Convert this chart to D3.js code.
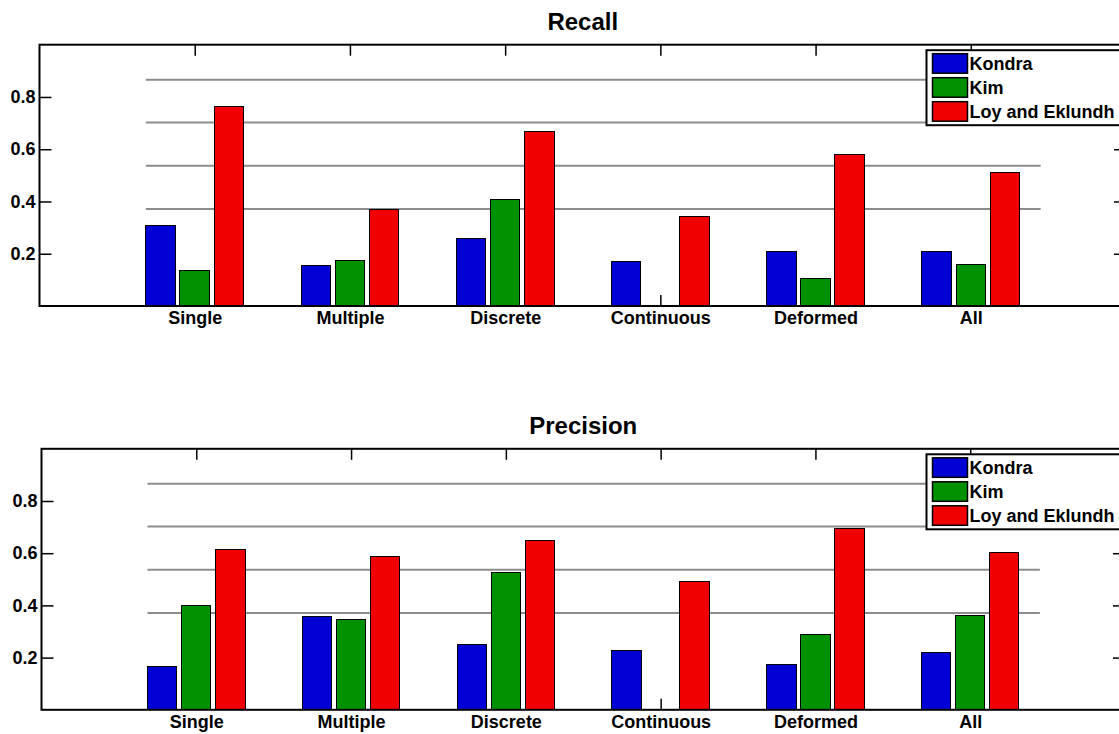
<!DOCTYPE html>
<html>
<head>
<meta charset="utf-8">
<script src="https://cdn.jsdelivr.net/npm/d3@7/dist/d3.min.js"></script>
<style>
  html, body { margin: 0; padding: 0; background: #fff; }
  svg { display: block; }
  text { font-family: "Liberation Sans", Arial, Helvetica, sans-serif; font-weight: bold; fill: #000; }
</style>
</head>
<body>
<svg id="chart" width="1119" height="734"></svg>
<script>
// Detection results per scene category
const categories = ["Single", "Multiple", "Discrete", "Continuous", "Deformed", "All"];
const methods = ["Kondra", "Kim", "Loy and Eklundh"];
const methodColors = ["#0000d4", "#009100", "#f00000"];

const recallKondra = [0.309, 0.156, 0.260, 0.172, 0.210, 0.210];
const recallKim    = [0.137, 0.173, 0.408, 0.000, 0.107, 0.160];
const recallLoy    = [0.762, 0.370, 0.668, 0.344, 0.580, 0.509];

const precisionKondra = [0.166, 0.356, 0.251, 0.229, 0.174, 0.220];
const precisionKim    = [0.401, 0.347, 0.525, 0.000, 0.289, 0.362];
const precisionLoy    = [0.616, 0.587, 0.647, 0.493, 0.693, 0.601];

const yTicks = [0.2, 0.4, 0.6, 0.8];
const refLevels = [0.371, 0.537, 0.702, 0.866];
const refSpan = [0.685, 6.45];

const svg = d3.select("#chart");

function drawPanel(opts) {
  const { title, series, left, right, top, bottom } = opts;
  const x = d3.scaleLinear().domain([0, 7]).range([left, right]);
  const y = d3.scaleLinear().domain([0, 1]).range([bottom, top]);
  const g = svg.append("g");

  // title
  g.append("text")
    .attr("x", (left + right) / 2)
    .attr("y", top - 14.5)
    .attr("text-anchor", "middle")
    .style("font-size", "24px")
    .text(title);

  // horizontal reference lines
  g.append("g").selectAll("line").data(refLevels).join("line")
    .attr("x1", x(refSpan[0])).attr("x2", x(refSpan[1]))
    .attr("y1", d => y(d)).attr("y2", d => y(d))
    .attr("stroke", "#8c8c8c").attr("stroke-width", 2);

  // axes (ticks point inward, as in the plotting frame)
  const bottomAxis = g.append("g").attr("transform", `translate(0,${bottom})`)
    .call(d3.axisBottom(x).tickValues(d3.range(1, categories.length + 1))
      .tickFormat(i => categories[i - 1]).tickSizeInner(-11).tickSizeOuter(0).tickPadding(5));
  const topAxis = g.append("g").attr("transform", `translate(0,${top})`)
    .call(d3.axisTop(x).tickValues(d3.range(1, categories.length + 1))
      .tickFormat("").tickSizeInner(-11).tickSizeOuter(0));
  const leftAxis = g.append("g").attr("transform", `translate(${left},0)`)
    .call(d3.axisLeft(y).tickValues(yTicks).tickFormat(d3.format(".1f"))
      .tickSizeInner(-12).tickSizeOuter(0).tickPadding(4));
  const rightAxis = g.append("g").attr("transform", `translate(${right},0)`)
    .call(d3.axisRight(y).tickValues(yTicks).tickFormat("")
      .tickSizeInner(-12).tickSizeOuter(0));
  [bottomAxis, topAxis, leftAxis, rightAxis].forEach(a => {
    a.select(".domain").remove();
    a.selectAll("line").attr("stroke", "#000").attr("stroke-width", 1.5);
    a.selectAll("text").style("font-size", "18px").attr("fill", "#000")
      .style("font-family", "'Liberation Sans', Arial, sans-serif").style("font-weight", "bold");
  });

  // grouped bars
  const offsets = [-0.22, 0, 0.22];
  const barW = 0.19;
  series.forEach((vals, si) => {
    g.append("g").selectAll("rect")
      .data(vals.map((v, i) => ({ v, i })).filter(d => d.v > 0))
      .join("rect")
      .attr("x", d => x(d.i + 1 + offsets[si] - barW / 2))
      .attr("width", x(barW) - x(0))
      .attr("y", d => y(d.v))
      .attr("height", d => y(0) - y(d.v))
      .attr("fill", methodColors[si])
      .attr("stroke", "#000").attr("stroke-width", 1)
      .attr("shape-rendering", "crispEdges");
  });

  // frame
  g.append("rect")
    .attr("x", left).attr("y", top)
    .attr("width", right - left).attr("height", bottom - top)
    .attr("fill", "none").attr("stroke", "#000").attr("stroke-width", 2);

  // legend
  const lg = g.append("g").attr("transform", `translate(926.5,${top + 5.5})`);
  lg.append("rect")
    .attr("x", 0).attr("y", 0).attr("width", 220).attr("height", 75)
    .attr("fill", "#fff").attr("stroke", "#000").attr("stroke-width", 2);
  methods.forEach((m, i) => {
    const cy = 13 + i * 24;
    lg.append("rect")
      .attr("x", 6).attr("y", cy - 9.5).attr("width", 35).attr("height", 19.5)
      .attr("fill", methodColors[i]).attr("stroke", "#000").attr("stroke-width", 1.5);
    lg.append("text")
      .attr("x", 43).attr("y", cy + 0.5)
      .attr("dominant-baseline", "central")
      .style("font-size", "18px")
      .text(m);
  });
}

drawPanel({
  title: "Recall",
  series: [recallKondra, recallKim, recallLoy],
  left: 39.5, right: 1126, top: 44.7, bottom: 306
});

drawPanel({
  title: "Precision",
  series: [precisionKondra, precisionKim, precisionLoy],
  left: 41.5, right: 1125, top: 448.8, bottom: 709.8
});
</script>
</body>
</html>
